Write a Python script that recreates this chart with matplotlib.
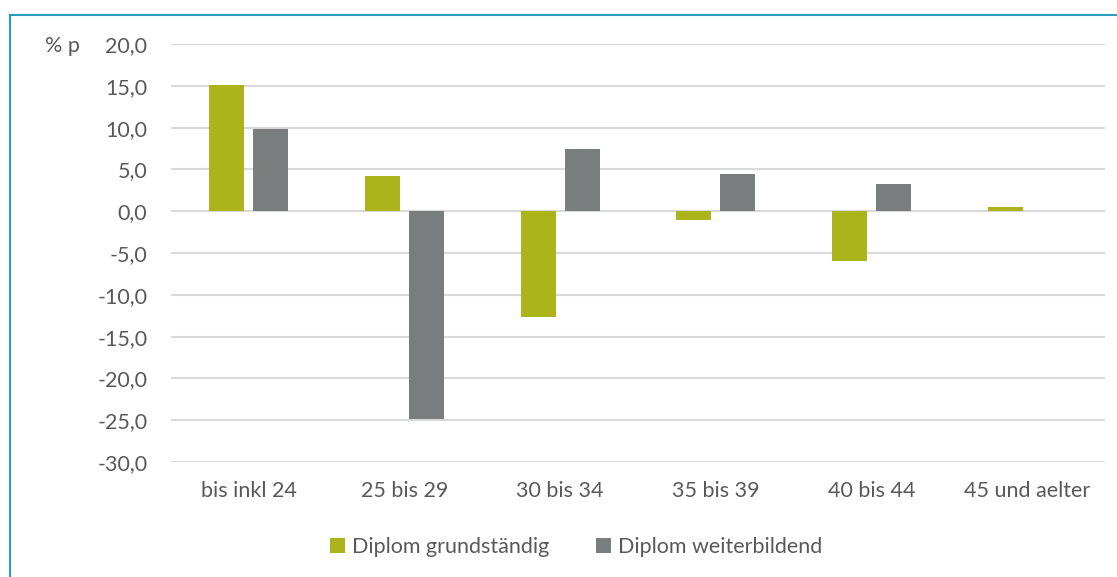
import matplotlib.pyplot as plt
import numpy as np
from matplotlib.lines import Line2D

# Daten
kategorien = ['bis inkl 24', '25 bis 29', '30 bis 34', '35 bis 39', '40 bis 44', '45 und aelter']
grundstaendig = [15.1, 4.2, -12.7, -1.0, -5.9, 0.5]
weiterbildend = [9.8, -24.8, 7.5, 4.5, 3.3, 0.0]
serien = ['Diplom grundständig', 'Diplom weiterbildend']

gruen = '#ABB41B'
grau = '#7A7D7D'
textfarbe = '#595959'

plt.rcParams['font.family'] = ['Lato', 'DejaVu Sans']

fig = plt.figure(figsize=(11.17, 5.77), dpi=100)
W, H = 1117, 577
ax = fig.add_axes([171 / W, 1 - 462 / H, (1105 - 171) / W, (462 - 44) / H])

x = np.arange(len(kategorien))
breite = 0.225
versatz = 0.141
ax.bar(x - versatz, grundstaendig, breite, color=gruen, linewidth=0,
       label=serien[0], zorder=3)
ax.bar(x + versatz, weiterbildend, breite, color=grau, linewidth=0,
       label=serien[1], zorder=3)

ax.set_xlim(-0.5, len(kategorien) - 0.5)
ax.set_ylim(-30, 20)
ax.set_yticks(np.arange(-30, 21, 5))
ax.set_yticklabels([f'{v:.1f}'.replace('.', ',') for v in np.arange(-30, 21, 5)])
ax.set_xticks(x)
ax.set_xticklabels(kategorien)

ax.grid(axis='y', color='#D9D9D9', linewidth=1.5, zorder=0)
ax.set_axisbelow(True)
for s in ax.spines.values():
    s.set_visible(False)
ax.tick_params(axis='both', length=0, labelsize=15.5, colors=textfarbe)
ax.tick_params(axis='y', pad=17)
ax.tick_params(axis='x', pad=14)

fig.text(62 / W, 1 - 46 / H, '% p', fontsize=15.5, color=textfarbe, ha='center', va='center')

leg = fig.legend(loc='center', bbox_to_anchor=(576 / W, 1 - 547 / H), ncol=2, frameon=False,
                 fontsize=15.5, labelcolor=textfarbe, handlelength=0.7, handleheight=0.7,
                 handletextpad=0.3, columnspacing=2.2)

# Rahmen (oben und links sichtbar)
fig.add_artist(Line2D([10 / W, 10 / W], [0, 1 - 15 / H], transform=fig.transFigure,
                      color='#2A9CC0', linewidth=1.5))
fig.add_artist(Line2D([10 / W, 1], [1 - 15 / H, 1 - 15 / H], transform=fig.transFigure,
                      color='#2A9CC0', linewidth=1.5))

fig.savefig('out.png', dpi=100)
